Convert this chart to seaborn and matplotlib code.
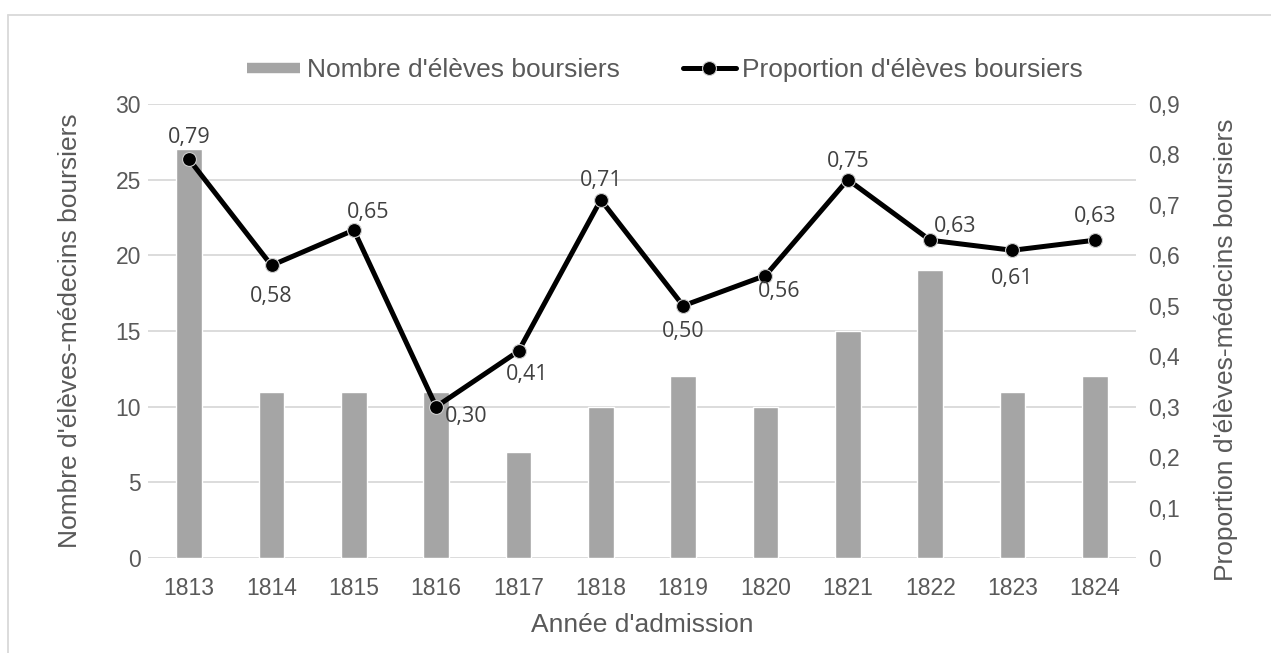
import matplotlib
matplotlib.use("Agg")
import matplotlib.pyplot as plt
from matplotlib.lines import Line2D
from matplotlib.ticker import FuncFormatter, MultipleLocator
import seaborn as sns

years = ["1813", "1814", "1815", "1816", "1817", "1818",
         "1819", "1820", "1821", "1822", "1823", "1824"]
nb_boursiers = [27, 11, 11, 11, 7, 10, 12, 10, 15, 19, 11, 12]
prop_boursiers = [0.79, 0.58, 0.65, 0.30, 0.41, 0.71, 0.50, 0.56, 0.75, 0.63, 0.61, 0.63]

# label placement (pixels) for each proportion label
label_offsets = [(0, 22), (0, -31), (14, 18), (30, -10), (9, -23), (0, 19),
                 (0, -26), (14, -16), (0, 18), (25, 14), (0, -28), (0, 24)]

sns.set_style("white")
plt.rcParams["font.family"] = ["Liberation Sans", "DejaVu Sans"]

TXT = "#595959"
GRID = "#D9D9D9"
BAR = "#A5A5A5"

fig = plt.figure(figsize=(12.71, 6.53), dpi=100)
ax = fig.add_axes([148 / 1271, 1 - 558 / 653, (1136 - 148) / 1271, (558 - 104) / 653])

sns.barplot(x=years, y=nb_boursiers, color=BAR, width=0.31, saturation=1,
            ax=ax, zorder=2)
ax.set_ylim(0, 30)
ax.yaxis.set_major_locator(MultipleLocator(5))
ax.set_axisbelow(True)
ax.grid(axis="y", color=GRID, linewidth=1.3)
ax.grid(axis="x", visible=False)

ax2 = ax.twinx()
sns.pointplot(x=years, y=prop_boursiers, color="black", markers="o",
              errorbar=None, ax=ax2, linewidth=3.6, markersize=10,
              markeredgecolor="#cfcfcf", markeredgewidth=0.8)
ax2.set_ylim(0, 0.9)
ax2.yaxis.set_major_locator(MultipleLocator(0.1))
ax2.yaxis.set_major_formatter(FuncFormatter(
    lambda v, p: "0" if abs(v) < 1e-9 else f"{v:.1f}".replace(".", ",")))
ax2.grid(False)
ax.set_xlim(-0.5, len(years) - 0.5)
ax2.set_xlim(-0.5, len(years) - 0.5)

for i, (v, (dx, dy)) in enumerate(zip(prop_boursiers, label_offsets)):
    ax2.annotate(f"{v:.2f}".replace(".", ","), (i, v), xytext=(dx, dy),
                 textcoords="offset pixels", ha="center", va="center",
                 fontsize=15.5, color="#404040", family=["Open Sans", "DejaVu Sans"])

for a in (ax, ax2):
    for s in a.spines.values():
        s.set_visible(False)
    a.tick_params(length=0, labelsize=16.5, labelcolor=TXT)
ax.tick_params(axis="y", pad=5)
ax.tick_params(axis="x", pad=14)
ax2.tick_params(axis="y", pad=9)

ax.set_xlabel("Année d'admission", fontsize=19, color=TXT, labelpad=9)
ax.set_ylabel("Nombre d'élèves-médecins boursiers", fontsize=19, color=TXT, labelpad=24)
ax2.set_ylabel("Proportion d'élèves-médecins boursiers", fontsize=19, color=TXT, labelpad=24)
ax2.yaxis.label.set_y(0.458)
ax2.set_xlabel("")

handles = [Line2D([0], [0], color=BAR, linewidth=7.5, solid_capstyle="butt"),
           Line2D([0], [0], color="black", linewidth=3.6, marker="o", markersize=10,
                  markeredgecolor="#cfcfcf", markeredgewidth=0.8)]
fig.legend(handles, ["Nombre d'élèves boursiers", "Proportion d'élèves boursiers"],
           loc="center", bbox_to_anchor=(665 / 1271, 1 - 70 / 653), ncol=2,
           frameon=False, fontsize=19, labelcolor=TXT, handlelength=2,
           handletextpad=0.25, columnspacing=2.4)

# outer chart border (left and top edges visible)
fig.add_artist(Line2D([8 / 1271, 8 / 1271], [0, 1 - 15 / 653], transform=fig.transFigure,
                      color=GRID, linewidth=1.3))
fig.add_artist(Line2D([8 / 1271, 1], [1 - 15 / 653, 1 - 15 / 653], transform=fig.transFigure,
                      color=GRID, linewidth=1.3))

fig.savefig("out.png", dpi=100)
